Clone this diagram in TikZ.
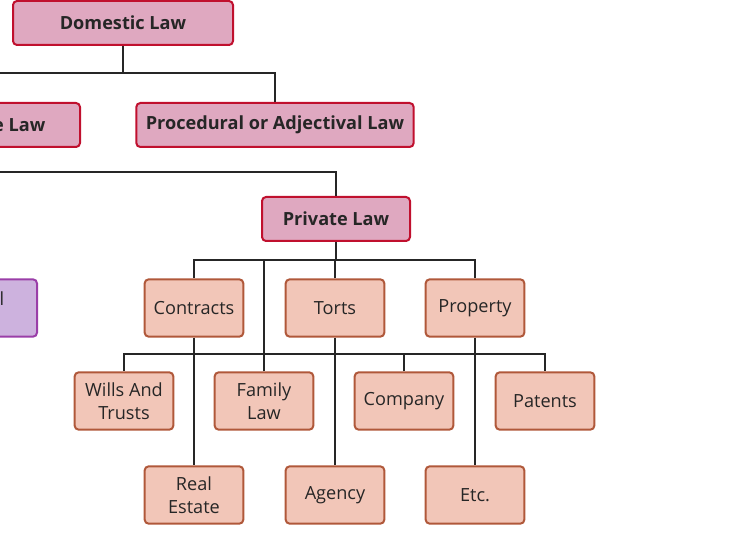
\documentclass[tikz,border=0pt]{standalone}
\usepackage{fontspec}
\setmainfont{Open Sans}
\definecolor{pinkf}{HTML}{DFA8C0}
\definecolor{pinkd}{HTML}{C0102E}
\definecolor{salf}{HTML}{F2C6B8}
\definecolor{sald}{HTML}{B0583A}
\definecolor{purf}{HTML}{CDB2DE}
\definecolor{purd}{HTML}{9A3EA8}
\begin{document}
\begin{tikzpicture}[x=0.75pt,y=-0.75pt,
  top/.style={draw=pinkd,fill=pinkf,line width=1.5pt,rounded corners=3pt,font=\fontsize{13.6}{15}\selectfont\bfseries,text=black!85,minimum height=33pt,inner sep=0pt},
  leaf/.style={draw=sald,fill=salf,line width=1.5pt,rounded corners=3pt,font=\fontsize{13.6}{17.5}\selectfont,text=black!85,minimum width=74pt,minimum height=43pt,align=center,inner sep=0pt},
  con/.style={line width=1.5pt,draw=black!85}]
\useasboundingbox (0,0) rectangle (745,541);
\begin{scope}
\clip (0,0) rectangle (745,541);
\node[top,minimum width=165pt] (dom) at (123,23) {Domestic Law};
\node[top,minimum width=208pt] (proc) at (275,125) {Procedural or Adjectival Law};
\node[top,minimum width=180pt,anchor=east] (subs) at (81,125) {};
\node[anchor=east,font=\fontsize{13.6}{15}\selectfont\bfseries,text=black!85] (subt) at (50,125) {Substantive Law};
\node[top,minimum width=111pt] (priv) at (336,219) {Private Law};
\node[draw=purd,fill=purf,line width=1.5pt,rounded corners=3pt,minimum width=120pt,minimum height=43pt,anchor=east] (pub) at (38,308) {};
\node[anchor=east,font=\fontsize{13.6}{15}\selectfont,text=black!85] (pubt) at (9,299) {Criminal};
\node[leaf] (con) at (194,308) {Contracts};
\node[leaf] (tor) at (335,308) {Torts};
\node[leaf] (pro) at (475,308) {Property};
\node[leaf] (wil) at (124,401) {Wills And\\Trusts};
\node[leaf] (fam) at (264,401) {Family\\Law};
\node[leaf] (com) at (404,401) {Company};
\node[leaf] (pat) at (545,401) {Patents};
\node[leaf] (rea) at (194,495) {Real\\Estate};
\node[leaf] (age) at (335,495) {Agency};
\node[leaf] (etc) at (475,495) {Etc.};
\coordinate (l1) at (-5,73);
\coordinate (l2) at (-5,172);
\coordinate (h1) at (264,260);
\coordinate (h2) at (264,354);
\end{scope}
\draw[con] (dom.south) -- (123,73) -| (proc.north);
\draw[con] (123,73) -- (l1);
\draw[con] (l2) -| (priv.north);
\draw[con] (priv.south) -- (336,260) -| (con.north);
\draw[con] (336,260) -| (pro.north);
\draw[con] (tor.north) -- (335,260);
\draw[con] (h1) -- (h2);
\draw[con] (h2) -| (wil.north);
\draw[con] (h2) -| (pat.north);
\draw[con] (fam.north) -- (h2);
\draw[con] (com.north) -- (404,354);
\draw[con] (con.south) -- (rea.north);
\draw[con] (tor.south) -- (age.north);
\draw[con] (pro.south) -- (etc.north);
\end{tikzpicture}
\end{document}
